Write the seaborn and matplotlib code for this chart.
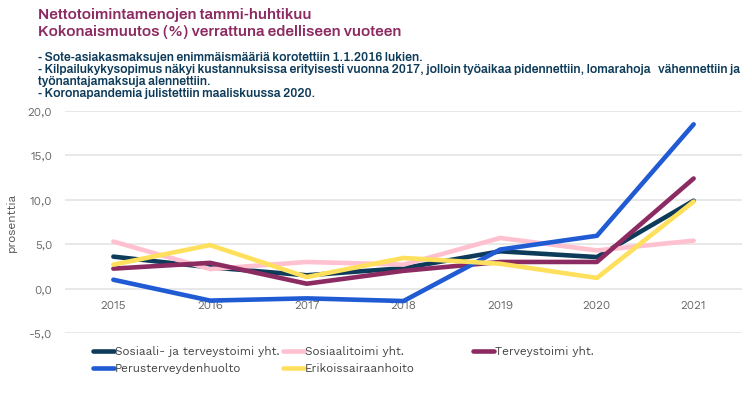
import pandas as pd
import matplotlib
matplotlib.use('Agg')
import matplotlib.pyplot as plt
from matplotlib.lines import Line2D
from matplotlib import font_manager
import seaborn as sns

# vuodet ja sarjat (muutos % edelliseen vuoteen)
vuodet = ['2015', '2016', '2017', '2018', '2019', '2020', '2021']
sote_yht = [3.6, 2.4, 1.5, 2.3, 4.2, 3.55, 9.9]
sosiaali_yht = [5.3, 2.2, 3.0, 2.7, 5.7, 4.3, 5.4]
terveys_yht = [2.25, 2.9, 0.55, 2.0, 3.0, 3.0, 12.4]
perus = [1.0, -1.35, -1.1, -1.4, 4.4, 5.95, 18.5]
erikois = [2.7, 4.9, 1.3, 3.45, 2.8, 1.2, 9.8]

sarjat = ['Sosiaali- ja terveystoimi yht.', 'Sosiaalitoimi yht.', 'Terveystoimi yht.',
          'Perusterveydenhuolto', 'Erikoissairaanhoito']
varit = ['#0d3b5a', '#ffc0cf', '#8c2b62', '#215bd4', '#ffe05c']

y_ticks = [-5, 0, 5, 10, 15, 20]

otsikko = ['Nettotoimintamenojen tammi-huhtikuu',
           'Kokonaismuutos (%) verrattuna edelliseen vuoteen']
huomiot = ['- Sote-asiakasmaksujen enimmäismääriä korotettiin 1.1.2016 lukien.',
           '- Kilpailukykysopimus näkyi kustannuksissa erityisesti vuonna 2017, jolloin työaikaa pidennettiin, lomarahoja   vähennettiin ja',
           'työnantajamaksuja alennettiin.',
           '- Koronapandemia julistettiin maaliskuussa 2020.']

df = pd.DataFrame({'vuosi': vuodet * 5,
                   'arvo': sote_yht + sosiaali_yht + terveys_yht + perus + erikois,
                   'sarja': [s for s in sarjat for _ in vuodet]})

sns.set_theme(style='white')
plt.rcParams['font.family'] = ['Work Sans', 'DejaVu Sans']

# lihavoitu fontti otsikolle, jos löytyy
asennetut = {f.name for f in font_manager.fontManager.ttflist}
otsikkofontti = next((f for f in ['Archivo', 'Roboto'] if f in asennetut), 'DejaVu Sans')

W, H = 752, 394
fig = plt.figure(figsize=(W / 100, H / 100), dpi=100)
ax = fig.add_axes([65 / W, 1 - 333 / H, 677 / W, 222 / H])

sns.lineplot(data=df, x='vuosi', y='arvo', hue='sarja', hue_order=sarjat,
             palette=varit, linewidth=3.3, sort=False, ax=ax, legend=False,
             solid_capstyle='round', solid_joinstyle='round')

ax.set_xlim(-0.5, 6.5)
ax.set_ylim(-5, 20)
ax.set_yticks(y_ticks)
ax.set_yticklabels([f'{v:.1f}'.replace('.', ',') for v in y_ticks])
ax.yaxis.grid(True, color='#e4e4e4', linewidth=1.2)
ax.set_axisbelow(True)
for s in ax.spines.values():
    s.set_visible(False)
ax.spines['bottom'].set_position(('data', 0))
ax.tick_params(axis='both', length=0, labelsize=8.5, labelcolor='#666666')
ax.tick_params(axis='y', pad=9)
ax.tick_params(axis='x', pad=8)
ax.set_xlabel('')
ax.set_ylabel('prosenttia', fontsize=8.5, color='#555555', labelpad=8)

# selite kolmessa sarakkeessa, rivit vasemmalta oikealle
sarakkeet = [[0, 3], [1, 4], [2]]
for c, idx in enumerate(sarakkeet):
    kahvat = [Line2D([], [], color=varit[i], linewidth=3.3, solid_capstyle='round') for i in idx]
    leg = fig.legend(kahvat, [sarjat[i] for i in idx], loc='upper left',
                     bbox_to_anchor=((93 + 190 * c) / W, 1 - 346 / H), frameon=False,
                     fontsize=8.5, handlelength=1.75, handletextpad=0.1,
                     labelspacing=0.52, borderpad=0, borderaxespad=0)
    for t in leg.get_texts():
        t.set_color('#444444')

# otsikko ja huomiot
rivi_t = [fig.text(38 / W, 1 - y / H, s, ha='left', va='baseline', fontsize=10,
                   fontweight='bold', color='#8c2b62', family=[otsikkofontti, 'DejaVu Sans'])
          for s, y in zip(otsikko, [19, 36])]
rivi_h = [fig.text(38 / W, 1 - y / H, s, ha='left', va='baseline', fontsize=8,
                   fontweight='bold', color='#0d3b5a', family=[otsikkofontti, 'DejaVu Sans'])
          for s, y in zip(huomiot, [61, 73, 85, 97])]

fig.canvas.draw()
r = fig.canvas.get_renderer()
k = 272 / rivi_t[0].get_window_extent(r).width
for t in rivi_t:
    t.set_fontsize(t.get_fontsize() * k)
k = 706 / rivi_h[1].get_window_extent(r).width
for t in rivi_h:
    t.set_fontsize(t.get_fontsize() * k)

fig.savefig('out.png', dpi=100)
